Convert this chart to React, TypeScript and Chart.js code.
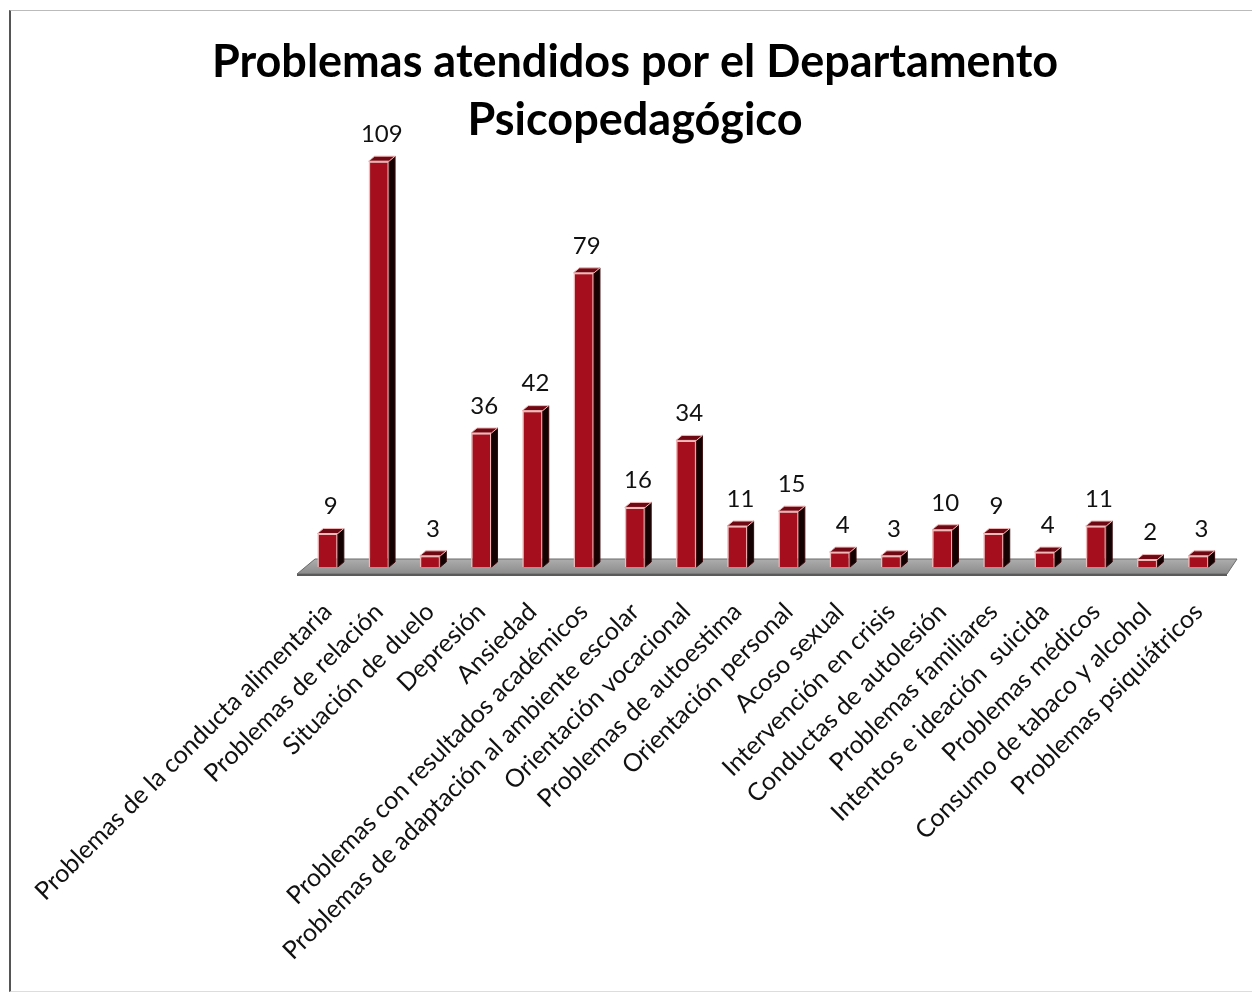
import React, { useEffect, useRef } from "react";
import { Chart, registerables } from "chart.js";

Chart.register(...registerables);

const categories: string[] = [
  "Problemas de la conducta alimentaria",
  "Problemas de relación",
  "Situación de duelo",
  "Depresión",
  "Ansiedad",
  "Problemas con resultados académicos",
  "Problemas de adaptación al ambiente escolar",
  "Orientación vocacional",
  "Problemas de autoestima",
  "Orientación personal",
  "Acoso sexual",
  "Intervención en crisis",
  "Conductas de autolesión",
  "Problemas familiares",
  "Intentos e ideación  suicida",
  "Problemas médicos",
  "Consumo de tabaco y alcohol",
  "Problemas psiquiátricos",
];

const values: number[] = [9, 109, 3, 36, 42, 79, 16, 34, 11, 15, 4, 3, 10, 9, 4, 11, 2, 3];

const titleLines: string[] = ["Problemas atendidos por el Departamento", "Psicopedagógico"];

const FRONT = "#a50f1d";
const EDGE = "#f2b8b8";
const SIDE = "#140203";
const TOP = "#6e0812";
const DX = 6;
const DY = 5;

const bar3d = {
  id: "bar3d",
  beforeDatasetsDraw(chart: any) {
    const { ctx, chartArea, scales } = chart;
    const y0 = scales.y.getPixelForValue(0);
    const l = chartArea.left;
    const r = chartArea.right;
    ctx.save();
    const g = ctx.createLinearGradient(0, y0 - 9, 0, y0 + 8);
    g.addColorStop(0, "#b0b0b0");
    g.addColorStop(1, "#888888");
    ctx.beginPath();
    ctx.moveTo(l - 5, y0 + 7);
    ctx.lineTo(r + 3, y0 + 7);
    ctx.lineTo(r + 13, y0 - 8);
    ctx.lineTo(l + 13, y0 - 8);
    ctx.closePath();
    ctx.fillStyle = g;
    ctx.fill();
    ctx.lineWidth = 1;
    ctx.strokeStyle = "#6a6a6a";
    ctx.stroke();
    ctx.beginPath();
    ctx.moveTo(l - 5, y0 + 7);
    ctx.lineTo(r + 3, y0 + 7);
    ctx.lineTo(r + 3, y0 + 9);
    ctx.lineTo(l - 5, y0 + 9);
    ctx.closePath();
    ctx.fillStyle = "#5a5a5a";
    ctx.fill();
    ctx.restore();
  },
  afterDatasetsDraw(chart: any) {
    const { ctx } = chart;
    const meta = chart.getDatasetMeta(0);
    ctx.save();
    meta.data.forEach((el: any, i: number) => {
      const p = el.getProps(["x", "y", "base", "width"], true);
      const xl = p.x - p.width / 2;
      const xr = p.x + p.width / 2;
      const top = p.y;
      const base = p.base;
      ctx.beginPath();
      ctx.moveTo(xr, top);
      ctx.lineTo(xr + DX, top - DY);
      ctx.lineTo(xr + DX, base - DY);
      ctx.lineTo(xr, base);
      ctx.closePath();
      ctx.fillStyle = SIDE;
      ctx.fill();
      ctx.strokeStyle = "#3a0a0c";
      ctx.lineWidth = 1;
      ctx.stroke();
      ctx.beginPath();
      ctx.moveTo(xl, top);
      ctx.lineTo(xl + DX, top - DY);
      ctx.lineTo(xr + DX, top - DY);
      ctx.lineTo(xr, top);
      ctx.closePath();
      ctx.fillStyle = TOP;
      ctx.fill();
      ctx.strokeStyle = EDGE;
      ctx.stroke();
      ctx.fillStyle = "#111";
      ctx.font = "24px Lato";
      ctx.textAlign = "center";
      ctx.textBaseline = "bottom";
      ctx.fillText(String(values[i]), p.x + DX / 2, top - DY - 10);
    });
    ctx.restore();
  },
};

export default function App() {
  const ref = useRef<HTMLCanvasElement | null>(null);
  useEffect(() => {
    if (!ref.current) return;
    const chart = new Chart(ref.current, {
      type: "bar",
      data: {
        labels: categories,
        datasets: [
          {
            data: values,
            backgroundColor: FRONT,
            borderColor: EDGE,
            borderWidth: 1.5,
            categoryPercentage: 0.8,
            barPercentage: 0.5,
          },
        ],
      },
      options: {
        animation: false,
        responsive: true,
        maintainAspectRatio: false,
        layout: { padding: { left: 46, right: 28, top: 0, bottom: 10 } },
        plugins: {
          legend: { display: false },
          tooltip: { enabled: false },
          title: {
            display: true,
            text: titleLines,
            color: "#000",
            font: { family: "Lato", size: 45, weight: "bold", lineHeight: 1.3 },
            padding: { top: 33, bottom: 0 },
          },
        },
        scales: {
          x: {
            grid: { display: false },
            border: { display: false },
            ticks: {
              color: "#111",
              font: { family: "Lato", size: 25 },
              maxRotation: 45,
              minRotation: 45,
              padding: 22,
              autoSkip: false,
            },
            afterFit: (scale: any) => {
              scale.height = 415;
            },
          },
          y: {
            display: true,
            min: 0,
            max: 112,
            grid: { display: false },
            border: { display: false },
            ticks: { display: false },
            afterFit: (scale: any) => {
              scale.width = 256;
            },
          },
        },
      },
      plugins: [bar3d],
    });
    return () => chart.destroy();
  }, []);
  return (
    <div style={{ position: "absolute", left: 0, top: 0, width: 1252, height: 992, background: "#fff" }}>
      <div
        style={{
          position: "absolute",
          left: 9,
          top: 10,
          width: 1250,
          height: 980,
          borderLeft: "2px solid #555",
          borderTop: "1px solid #bbb",
          borderBottom: "1px solid #ddd",
        }}
      />
      <canvas ref={ref} style={{ position: "absolute", left: 0, top: 0 }} />
    </div>
  );
}
